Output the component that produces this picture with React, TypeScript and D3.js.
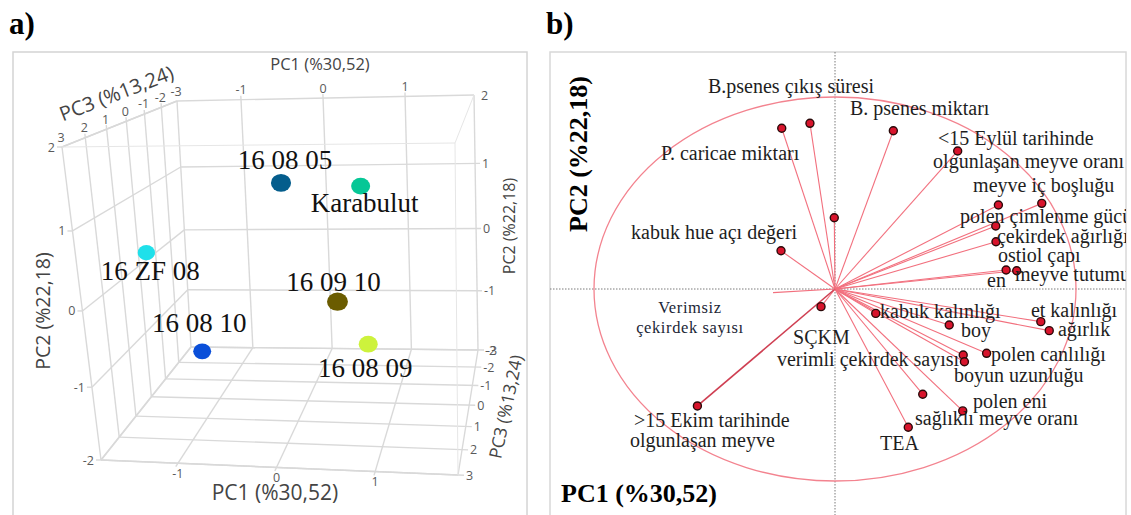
import React from 'react';
import * as d3 from 'd3';

// ---------------- Panel a: 3D PCA scores ----------------
const cultivars = ['16 08 05', 'Karabulut', '16 ZF 08', '16 09 10', '16 08 10', '16 08 09'];
const cultivarPC1 = [-0.09, 0.72, -1.73, 0.47, -1.16, 0.74];
const cultivarPC2 = [1.24, 1.15, 0.15, -0.32, -1.27, -1.04];
const cultivarPC3 = [0.6, 0.3, -0.2, 0.8, 0.0, 0.3];
const cultivarColors = ['#045d8c', '#06c796', '#1fe0ea', '#6b5c00', '#0a4fd9', '#cdf23c'];

const pc1Range = [-1.78, 1.84];
const pc2Range = [-2, 2];
const pc3Range = [-3, 3];
const pc1TickValues = [-1, 0, 1];
const pc2TickValues = [-2, -1, 0, 1, 2];
const pc3TickValues = [-3, -2, -1, 0, 1, 2, 3];

// layout (label offsets from dots)
const cultivarLabelOffsets = [[4, -14], [4, 26], [4, 27], [-4, -11], [-3, -19], [-3, 33]];

// ---------------- Panel b: loadings ----------------
const variableNames = [
  'P. caricae miktarı', 'B.psenes çıkış süresi', 'B. psenes miktarı',
  '<15 Eylül tarihinde olgunlaşan meyve oranı', 'değişken', 'kabuk hue açı değeri',
  'polen çimlenme gücü', 'meyve iç boşluğu', 'çekirdek ağırlığı', 'ostiol çapı', 'en',
  'meyve tutumu', 'kabuk kalınlığı', 'boy', 'et kalınlığı', 'ağırlık',
  'verimli çekirdek sayısı', 'boyun uzunluğu', 'polen canlılığı', 'sağlıklı meyve oranı',
  'polen eni', 'TEA', 'SÇKM', '>15 Ekim tarihinde olgunlaşan meyve', 'Verimsiz çekirdek sayısı',
];
const loadingPC1 = [-0.221, -0.104, 0.242, 0.509, -0.003, -0.224, 0.678, 0.858, 0.667, 0.668, 0.71, 0.754, 0.169, 0.474, 0.854, 0.889, 0.532, 0.537, 0.629, 0.364, 0.53, 0.304, -0.058, -0.571, -0.257];
const loadingPC2 = [0.837, 0.863, 0.824, 0.719, 0.371, 0.199, 0.4375, 0.446, 0.328, 0.246, 0.099, 0.095, -0.127, -0.1875, -0.17, -0.217, -0.344, -0.379, -0.335, -0.548, -0.635, -0.72, -0.092, -0.609, -0.019];
const vectorHasMarker = variableNames.map((n) => n !== 'Verimsiz çekirdek sayısı');
const vectorEmphasis = variableNames.map((n) => n.startsWith('>15'));

const labelTexts = [
  'B.psenes çıkış süresi', 'B. psenes miktarı', '<15 Eylül tarihinde', 'olgunlaşan meyve oranı',
  'P. caricae miktarı', 'meyve iç boşluğu', 'polen çimlenme gücü', 'çekirdek ağırlığı',
  'ostiol çapı', 'en', 'meyve tutumu', 'kabuk hue açı değeri', 'kabuk kalınlığı', 'boy',
  'et kalınlığı', 'ağırlık', 'polen canlılığı', 'verimli çekirdek sayısı', 'SÇKM',
  'boyun uzunluğu', 'polen eni', 'sağlıklı meyve oranı', 'TEA', '>15 Ekim tarihinde', 'olgunlaşan meyve',
];
// label anchor positions (layout), in loading units
const labelAnchorX = [-0.527, 0.062, 0.427, 0.407, -0.722, 0.573, 0.519, 0.672, 0.676, 0.631, 0.747, -0.846, 0.187, 0.523, 0.813, 0.925, 0.647, -0.241, -0.174, 0.494, 0.573, 0.332, 0.187, -0.834, -0.851];
const labelAnchorY = [1.021, 0.906, 0.75, 0.63, 0.672, 0.505, 0.344, 0.24, 0.141, 0.01, 0.042, 0.26, -0.151, -0.25, -0.146, -0.245, -0.375, -0.401, -0.286, -0.484, -0.62, -0.708, -0.839, -0.719, -0.823];
const smallLabelTexts = ['Verimsiz', 'çekirdek sayısı'];
const smallLabelX = [-0.602, -0.602];
const smallLabelY = [-0.125, -0.229];

// ---------------- projection for panel a ----------------
type P2 = [number, number];
const boxCorners: Record<string, P2> = {
  LBB: [191, 347], RBB: [478, 350], LTB: [177, 101], RTB: [474, 95],
  LBF: [101, 460], RBF: [458, 475], LTF: [62, 147], RTF: [455, 143],
};
const uScale = d3.scaleLinear().domain(pc1Range).range([0, 1]);
const vScale = d3.scaleLinear().domain(pc2Range).range([0, 1]);
const wScale = d3.scaleLinear().domain(pc3Range).range([0, 1]);
const ease = (k: number) => (t: number) => t / (1 + k * (1 - t));
const easeV = ease(0.1);
const easeW = ease(0.27);
const lerp = (a: P2, b: P2, t: number): P2 => [a[0] + (b[0] - a[0]) * t, a[1] + (b[1] - a[1]) * t];
function depth(z: number) { return easeW(wScale(z)); }
function project(x: number, y: number, z: number): P2 {
  const u = uScale(x), v = easeV(vScale(y)), w = depth(z);
  const C = boxCorners;
  const back = lerp(lerp(C.LBB, C.RBB, u), lerp(C.LTB, C.RTB, u), v);
  const front = lerp(lerp(C.LBF, C.RBF, u), lerp(C.LTF, C.RTF, u), v);
  return lerp(back, front, w);
}

const [X0, X1] = pc1Range;
const [Y0, Y1] = pc2Range;
const [Z0, Z1] = pc3Range; // Z0 back, Z1 front

function seg(a: P2, b: P2, key: string, stroke = '#d9d9d9', width = 1.4) {
  return <line key={key} x1={a[0]} y1={a[1]} x2={b[0]} y2={b[1]} stroke={stroke} strokeWidth={width} />;
}
function ext(a: P2, b: P2, len: number): P2 {
  const dx = b[0] - a[0], dy = b[1] - a[1];
  const L = Math.hypot(dx, dy) || 1;
  return [b[0] + (dx / L) * len, b[1] + (dy / L) * len];
}

const tickFont = { fontFamily: '"Open Sans", "DejaVu Sans", sans-serif', fontSize: 12.5, fill: '#5a5a5a' };
const titleFont = { fontFamily: '"Open Sans", "DejaVu Sans", sans-serif', fill: '#444' };

function PanelA() {
  const lines: React.ReactNode[] = [];
  const inner = (v: number, lo: number, hi: number) => v > lo && v < hi;
  // back wall (Z0)
  lines.push(seg(project(X0, Y1, Z0), project(X1, Y1, Z0), 'bw-t'));
  lines.push(seg(project(X1, Y1, Z0), project(X1, Y0, Z0), 'bw-r'));
  lines.push(seg(project(X1, Y0, Z0), project(X0, Y0, Z0), 'bw-b'));
  lines.push(seg(project(X0, Y0, Z0), project(X0, Y1, Z0), 'bw-l'));
  pc1TickValues.forEach((x) => {
    const a = project(x, Y0, Z0), b = project(x, Y1, Z0);
    lines.push(seg(a, ext(a, b, 4), 'bwx' + x));
  });
  pc2TickValues.filter((y) => inner(y, Y0, Y1)).forEach((y) => {
    const a = project(X0, y, Z0), b = project(X1, y, Z0);
    lines.push(seg(a, ext(a, b, 5), 'bwy' + y));
  });
  // left wall (X0)
  lines.push(seg(project(X0, Y1, Z1), project(X0, Y1, Z0), 'lw-t'));
  lines.push(seg(project(X0, Y0, Z1), project(X0, Y0, Z0), 'lw-b'));
  lines.push(seg(project(X0, Y1, Z1), project(X0, Y0, Z1), 'lw-f'));
  pc3TickValues.filter((z) => inner(z, Z0, Z1)).forEach((z) => {
    const a = project(X0, Y0, z), b = project(X0, Y1, z);
    lines.push(seg(a, ext(a, b, 4), 'lwz' + z));
  });
  pc2TickValues.forEach((y) => {
    const a = project(X0, y, Z1), b = project(X0, y, Z0);
    lines.push(seg(a, b, 'lwy' + y));
    lines.push(seg(a, [a[0] - 5, a[1]], 'lwyt' + y));
  });
  // floor (Y0)
  lines.push(seg(project(X0, Y0, Z1), project(X1, Y0, Z1), 'fl-f'));
  lines.push(seg(project(X1, Y0, Z1), project(X1, Y0, Z0), 'fl-r'));
  pc1TickValues.forEach((x) => {
    const a = project(x, Y0, Z0), b = project(x, Y0, Z1);
    lines.push(seg(a, ext(a, b, 4), 'flx' + x));
  });
  pc3TickValues.forEach((z) => {
    const a = project(X0, Y0, z), b = project(X1, Y0, z);
    lines.push(seg(a, ext(a, b, 6), 'flz' + z));
  });
  // light outline of the open front box edges
  const light = '#e6e6e6';
  lines.push(seg(project(X0, Y1, Z1), project(X1, Y1, Z1), 'o1', light, 1));
  lines.push(seg(project(X1, Y1, Z1), project(X1, Y1, Z0), 'o2', light, 1));
  lines.push(seg(project(X1, Y1, Z1), project(X1, Y0, Z1), 'o3', light, 1));

  const labels: React.ReactNode[] = [];
  pc1TickValues.forEach((x) => {
    const p = project(x, Y1, Z0);
    labels.push(<text key={'t1' + x} x={p[0]} y={p[1] - 10} textAnchor="middle" dominantBaseline="central" {...tickFont}>{x}</text>);
    const q = project(x, Y0, Z1);
    labels.push(<text key={'b1' + x} x={q[0]} y={q[1] + 10} textAnchor="middle" dominantBaseline="central" {...tickFont}>{x}</text>);
  });
  pc2TickValues.forEach((y) => {
    const p = project(X0, y, Z1);
    labels.push(<text key={'l2' + y} x={p[0] - 7} y={p[1]} textAnchor="end" dominantBaseline="central" {...tickFont}>{y}</text>);
    const q = project(X1, y, Z0);
    labels.push(<text key={'r2' + y} x={q[0] + 7} y={q[1]} textAnchor="start" dominantBaseline="central" {...tickFont}>{y}</text>);
  });
  pc3TickValues.forEach((z) => {
    const p = project(X0, Y1, z);
    labels.push(<text key={'tl3' + z} x={p[0] - 1} y={p[1] - 10} textAnchor="middle" dominantBaseline="central" {...tickFont}>{z}</text>);
    const q = project(X1, Y0, z);
    labels.push(<text key={'r3' + z} x={q[0] + 8} y={q[1]} textAnchor="start" dominantBaseline="central" {...tickFont}>{z}</text>);
  });

  const order = d3.range(cultivars.length).sort((a, b) => cultivarPC3[a] - cultivarPC3[b]);
  const dots = order.map((i) => {
    const p = project(cultivarPC1[i], cultivarPC2[i], cultivarPC3[i]);
    const d = 8.5 + 21.5 * depth(cultivarPC3[i]);
    return <ellipse key={'d' + i} cx={p[0]} cy={p[1]} rx={d / 2} ry={d / 2 * 0.88} fill={cultivarColors[i]} />;
  });
  const names = cultivars.map((c, i) => {
    const p = project(cultivarPC1[i], cultivarPC2[i], cultivarPC3[i]);
    const [dx, dy] = cultivarLabelOffsets[i];
    return (
      <text key={'n' + i} x={p[0] + dx} y={p[1] + dy} textAnchor="middle"
        fontFamily='"Liberation Serif", "Times New Roman", serif' fontSize={27} fill="#111">{c}</text>
    );
  });

  return (
    <g>
      <rect x={13} y={52} width={514} height={480} fill="#fff" stroke="#d4d4d4" strokeWidth={1.5} />
      {lines}
      {labels}
      <text x={320} y={70} textAnchor="middle" fontSize={16.5} {...titleFont}>PC1 (%30,52)</text>
      <text x={275} y={500} textAnchor="middle" fontSize={21} {...titleFont}>PC1 (%30,52)</text>
      <text transform="translate(50,311) rotate(-90)" textAnchor="middle" fontSize={19.5} {...titleFont}>PC2 (%22,18)</text>
      <text transform="translate(515,226) rotate(-90)" textAnchor="middle" fontSize={16} {...titleFont}>PC2 (%22,18)</text>
      <text transform="translate(512,408) rotate(-78)" textAnchor="middle" fontSize={17.5} {...titleFont}>PC3 (%13,24)</text>
      <text transform="translate(119,100) rotate(-21)" textAnchor="middle" fontSize={20} {...titleFont}>PC3 (%13,24)</text>
      {dots}
      {names}
    </g>
  );
}

// ---------------- Panel b ----------------
const originX = 835, originY = 289, radiusX = 241, radiusY = 192;
const lx = d3.scaleLinear().domain([-1, 1]).range([originX - radiusX, originX + radiusX]);
const ly = d3.scaleLinear().domain([-1, 1]).range([originY + radiusY, originY - radiusY]);

function PanelB() {
  const fx = 550, fy = 52, fw = 576, fh = 480;
  const serif = '"Liberation Serif", "Times New Roman", serif';
  return (
    <g>
      <defs>
        <clipPath id="clipB"><rect x={fx} y={fy} width={fw} height={fh} /></clipPath>
      </defs>
      <rect x={fx} y={fy} width={fw} height={fh} fill="#fff" stroke="#d8d8d8" strokeWidth={1.5} />
      <g clipPath="url(#clipB)">
        <line x1={lx(0)} x2={lx(0)} y1={fy} y2={fy + fh} stroke="#7a7a7a" strokeWidth={1} strokeDasharray="1.5 1.5" />
        <line x1={fx} x2={fx + fw} y1={ly(0)} y2={ly(0)} stroke="#7a7a7a" strokeWidth={1} strokeDasharray="1.5 1.5" />
        <ellipse cx={lx(0)} cy={ly(0)} rx={lx(1) - lx(0)} ry={ly(0) - ly(1)} fill="none" stroke="#f3838f" strokeWidth={1.3} />
        {variableNames.map((n, i) => (
          <line key={'v' + i} x1={lx(0)} y1={ly(0)} x2={lx(loadingPC1[i])} y2={ly(loadingPC2[i])}
            stroke={vectorEmphasis[i] ? '#cf3f52' : '#f2707e'} strokeWidth={vectorEmphasis[i] ? 1.6 : 1.1} />
        ))}
        {variableNames.map((n, i) => vectorHasMarker[i] ? (
          <circle key={'m' + i} cx={lx(loadingPC1[i])} cy={ly(loadingPC2[i])} r={4} fill="#d8142c" stroke="#2a0a0a" strokeWidth={1.4} />
        ) : null)}
        {labelTexts.map((t, i) => (
          <text key={'lb' + i} x={lx(labelAnchorX[i])} y={ly(labelAnchorY[i])} fontFamily={serif} fontSize={20} fill="#1e1e1e">{t}</text>
        ))}
        {smallLabelTexts.map((t, i) => (
          <text key={'sl' + i} x={lx(smallLabelX[i])} y={ly(smallLabelY[i])} textAnchor="middle" fontFamily={serif}
            fontSize={16.5} letterSpacing={0.6} fill="#1b2636">{t}</text>
        ))}
      </g>
      <text transform="translate(587,154) rotate(-90)" textAnchor="middle" fontFamily={serif} fontWeight="bold" fontSize={26} fill="#000">PC2 (%22,18)</text>
      <text x={561} y={502} fontFamily={serif} fontWeight="bold" fontSize={26} fill="#000">PC1 (%30,52)</text>
    </g>
  );
}

export default function App() {
  return (
    <svg width={1131} height={515} viewBox="0 0 1131 515"
      style={{ position: 'absolute', left: 0, top: 0, display: 'block', background: '#fff' }}>
      <rect x={0} y={0} width={1131} height={515} fill="#fff" />
      <PanelA />
      <PanelB />
      <text x={9} y={34} fontFamily='"Liberation Serif", "Times New Roman", serif' fontWeight="bold" fontSize={31} fill="#000">a)</text>
      <text x={546} y={34} fontFamily='"Liberation Serif", "Times New Roman", serif' fontWeight="bold" fontSize={31} fill="#000">b)</text>
    </svg>
  );
}
